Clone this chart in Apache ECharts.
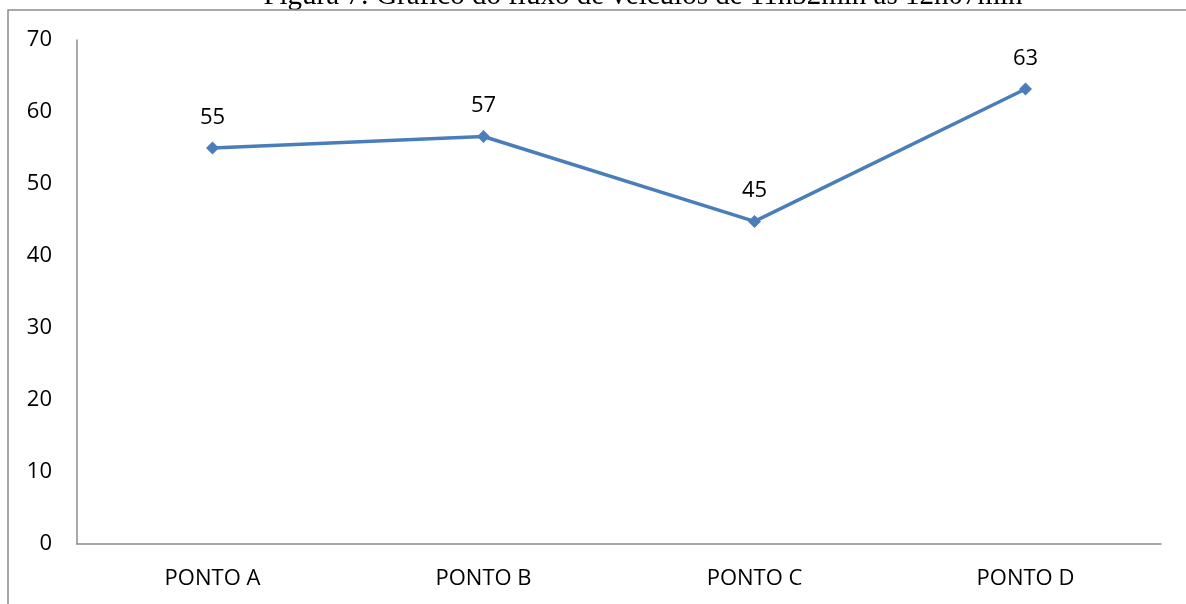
<!DOCTYPE html>
<html>
<head>
<meta charset="utf-8">
<script src="https://cdn.jsdelivr.net/npm/echarts@6/dist/echarts.min.js"></script>
<style>
  html, body { margin: 0; padding: 0; background: #fff; }
  #chart { width: 1186px; height: 604px; }
</style>
</head>
<body>
<div id="chart"></div>
<script>
// data
var categories = ['PONTO A', 'PONTO B', 'PONTO C', 'PONTO D'];
var fluxo = [55, 56.6, 44.8, 63.2];
var titulo = 'Figura 7: Gráfico do fluxo de veículos de 11h52min às 12h07min';

var axisGray = '#8c8c8c';
var labelFont = '"Open Sans", "Noto Sans", sans-serif';

var chart = echarts.init(document.getElementById('chart'));

var options = {
  animation: false,
  backgroundColor: '#fff',
  grid: { left: 77, right: 25, top: 40, bottom: 60, containLabel: false },
  graphic: [
    {
      // title is cut off by the top edge in the original
      type: 'text',
      style: {
        text: titulo,
        x: 643,
        y: -4,
        align: 'center',
        verticalAlign: 'middle',
        font: '29px "Liberation Serif", "Times New Roman", serif',
        fill: '#000'
      }
    },
    {
      type: 'polyline',
      shape: { points: [[8, 604], [8, 10], [1186, 10]] },
      style: { stroke: axisGray, lineWidth: 1.5, fill: null }
    }
  ],
  xAxis: {
    type: 'category',
    data: categories,
    boundaryGap: true,
    axisLine: { lineStyle: { color: axisGray, width: 1.5 } },
    axisTick: { show: false },
    axisLabel: { color: '#000', fontSize: 22, fontFamily: labelFont, margin: 24 },
    splitLine: { show: false }
  },
  yAxis: {
    type: 'value',
    min: 0,
    max: 70,
    interval: 10,
    axisLine: { show: true, lineStyle: { color: axisGray, width: 1.5 } },
    axisTick: { show: false },
    axisLabel: { color: '#000', fontSize: 22, fontFamily: labelFont, margin: 25 },
    splitLine: { show: false }
  },
  series: [{
    type: 'line',
    data: fluxo,
    symbol: 'diamond',
    symbolSize: 13,
    lineStyle: { color: '#4a7ebb', width: 3.5 },
    itemStyle: { color: '#4a7ebb' },
    label: {
      show: true,
      position: 'top',
      distance: 13,
      color: '#000',
      fontSize: 22,
      fontFamily: labelFont,
      formatter: function (p) { return Math.round(p.value); }
    }
  }]
};

chart.setOption(options);
</script>
</body>
</html>
